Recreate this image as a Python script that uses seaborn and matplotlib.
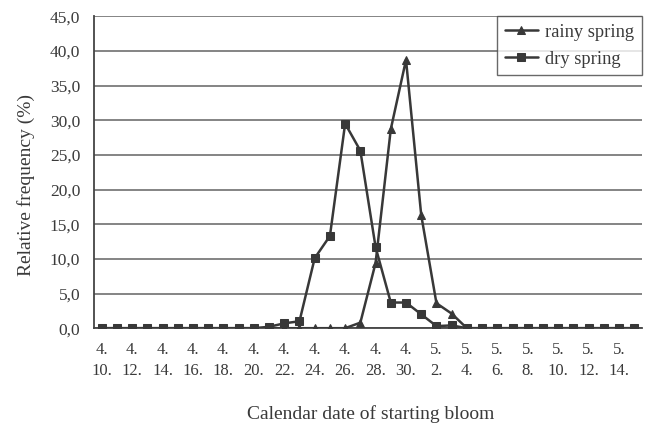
import numpy as np
import pandas as pd
import matplotlib
matplotlib.use("Agg")
import matplotlib.pyplot as plt
import seaborn as sns

# ---- data ----
months = [4] * 21 + [5] * 15
days = list(range(10, 31)) + list(range(1, 16))
rainy = [0, 0, 0, 0, 0, 0, 0, 0, 0, 0, 0, 0, 0,
         0, 0, 0, 0, 0.8, 9.4, 28.7, 38.7, 16.3, 3.6, 2.1,
         0, 0, 0, 0, 0, 0, 0, 0, 0, 0, 0, 0]
dry = [0, 0, 0, 0, 0, 0, 0, 0, 0, 0, 0, 0.2, 0.7,
       1.0, 10.1, 13.3, 29.5, 25.6, 11.7, 3.7, 3.7, 2.0, 0.3, 0.4,
       0, 0, 0, 0, 0, 0, 0, 0, 0, 0, 0, 0]
series_names = ["rainy spring", "dry spring"]
yticks = [0, 5, 10, 15, 20, 25, 30, 35, 40, 45]

n = len(days)
labels = [f"{m}.\n{d}." for m, d in zip(months, days)]
df = pd.DataFrame({
    "idx": list(range(n)) * 2,
    "value": rainy + dry,
    "series": [series_names[0]] * n + [series_names[1]] * n,
})

sns.set_style("white")
plt.rcParams["font.family"] = ["Liberation Serif", "DejaVu Serif"]

line_c = "#383838"
txt_c = "#3a3a3a"
fig = plt.figure(figsize=(6.53, 4.37), dpi=100)
ax = fig.add_axes([0.144, 0.249, 0.839, 0.714])

for y in yticks:
    ax.axhline(y, color="#707070", lw=1.2, zorder=0)

sns.lineplot(data=df, x="idx", y="value", hue="series", style="series",
             hue_order=series_names, style_order=series_names,
             markers={"rainy spring": "^", "dry spring": "s"}, dashes=False,
             palette={"rainy spring": line_c, "dry spring": line_c},
             markersize=6, linewidth=1.8, markeredgecolor=line_c,
             ax=ax, zorder=3)

ax.set_xlim(-0.5, n - 0.5)
ax.set_ylim(0, 45)
ax.set_yticks(yticks)
ax.set_yticklabels([f"{v:.1f}".replace(".", ",") for v in yticks], fontsize=12.5, color=txt_c)
ax.set_xticks(list(range(0, n, 2)))
ax.set_xticklabels(labels[::2], fontsize=12, color=txt_c, linespacing=1.4)
ax.set_xticks(np.arange(-0.5, n, 2), minor=True)
ax.tick_params(axis="x", which="major", length=0, pad=10)
ax.tick_params(axis="x", which="minor", length=4, width=1, color="#555555", direction="out")
ax.tick_params(axis="y", which="major", length=7, width=1, color="#555555", direction="out", pad=3)

for s in ["top", "right"]:
    ax.spines[s].set_visible(False)
ax.spines["left"].set_color("#444444")
ax.spines["bottom"].set_color("#444444")
ax.spines["left"].set_linewidth(1.3)
ax.spines["bottom"].set_linewidth(1.3)

ax.set_xlabel("Calendar date of starting bloom", fontsize=14, color=txt_c)
ax.set_ylabel("Relative frequency (%)", fontsize=14, color=txt_c)
ax.xaxis.set_label_coords(0.505, -0.245)
ax.yaxis.set_label_coords(-0.108, 0.458)

handles, labs = ax.get_legend_handles_labels()
leg = ax.legend(handles, labs, loc="upper right", bbox_to_anchor=(1.0, 1.0),
                borderaxespad=0, fontsize=13.3, frameon=True, fancybox=False,
                edgecolor="#444444", handlelength=1.8, handletextpad=0.4,
                borderpad=0.4, labelspacing=0.55)
leg.get_frame().set_linewidth(1.0)
for t in leg.get_texts():
    t.set_color(txt_c)
leg.set_zorder(5)

fig.savefig("out.png", dpi=100)
